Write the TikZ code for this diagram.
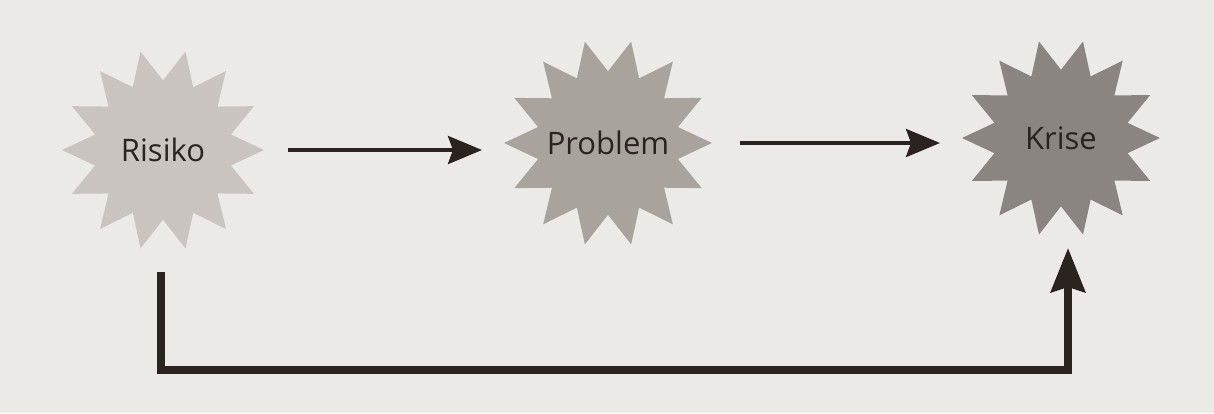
\documentclass[tikz,border=0pt]{standalone}
\usepackage{fontspec}
\setmainfont{Open Sans}
\usetikzlibrary{arrows.meta, positioning, shapes.geometric, calc}
\definecolor{rkpaper}{HTML}{ECEAE7}
\definecolor{rkink}{HTML}{2B2320}
\definecolor{rklight}{HTML}{C9C4BF}
\definecolor{rkmid}{HTML}{A9A39E}
\definecolor{rkdark}{HTML}{8B8581}
\begin{document}
\begin{tikzpicture}[
  x=1pt, y=-1pt,
  every node/.style={font=\fontsize{31}{31}\selectfont, text=rkink},
  burst/.style={star, star points=14, star point ratio=1.45, shape border rotate=12.86,
    minimum size=202pt, inner sep=0pt, draw=none},
  flow/.style={rkink, line width=4pt, -{Stealth[length=34pt, width=28pt, inset=5pt]}},
  bigflow/.style={rkink, line width=8pt, -{Stealth[length=44pt, width=34pt, inset=5pt]}},
]
\fill[rkpaper] (0,0) rectangle (1214,413);
\useasboundingbox (0,0) rectangle (1214,413);

\node[burst, fill=rklight, label={center:Risiko}] (ris) at (163,150) {};
\node[burst, fill=rkmid, minimum size=208pt, label={center:Problem}] (prob) at (608,143) {};
\node[burst, fill=rkdark, minimum size=198pt, label={center:Krise}] (kri) at (1061,138) {};

\coordinate (base) at (0,370);

\draw[flow, shorten <=125pt, shorten >=126pt] (ris.center) -- (ris.center -| prob.center);
\draw[flow, shorten <=132pt, shorten >=121pt] (prob.center) -- (prob.center -| kri.center);
\draw[bigflow, shorten <=122pt, shorten >=110pt] ([xshift=-2pt]ris.center) -- ([xshift=-2pt]ris.center |- base)
  -| ([xshift=7pt]kri.center);

\end{tikzpicture}
\end{document}
